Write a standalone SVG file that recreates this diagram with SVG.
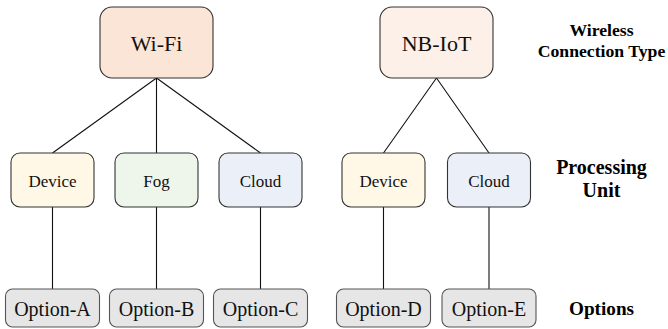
<svg xmlns="http://www.w3.org/2000/svg" width="668" height="329" viewBox="0 0 668 329">
<style>
.box{stroke:#333;stroke-width:1.1}
.opt{fill:#e6e6e6;stroke:#555;stroke-width:1.1}
text{font-family:'Liberation Serif','Times New Roman',Times,'DejaVu Serif',serif}
.t{fill:#111;text-anchor:middle}
.big{font-size:22px}
.mid{font-size:17px}
.os{font-size:20px}
.lab{font-weight:bold;fill:#000;text-anchor:middle}
.con{stroke:#111;stroke-width:1.1;fill:none}
</style>
<rect width="668" height="329" fill="#fff"/>
<g id="connectors">
<path class="con" d="M156.5 78 L52.5 153 M156.5 78 L156.5 153 M156.5 78 L260.5 153"/>
<path class="con" d="M436.5 78 L383.5 153 M436.5 78 L489 153"/>
<path class="con" d="M52.5 207 V289 M156.5 207 V289 M260.5 207 V289 M383.5 207 V289 M489 207 V289"/>
</g>
<g id="wifi"><rect class="box" x="100" y="7" width="113" height="71" rx="12" fill="#fbe5d6"/><text class="t big" x="156.5" y="51" font-family="Liberation Serif, serif">Wi-Fi</text></g>
<g id="nbiot"><rect class="box" x="380" y="7" width="113" height="71" rx="12" fill="#fcf0e8"/><text class="t big" x="436.5" y="51">NB-IoT</text></g>
<g id="device1"><rect class="box" x="11" y="153" width="83" height="54" rx="9" fill="#fff8e7"/><text class="t mid" x="52.5" y="186.5">Device</text></g>
<g id="fog"><rect class="box" x="115" y="153" width="83" height="54" rx="9" fill="#eef6eb"/><text class="t mid" x="156.5" y="186.5">Fog</text></g>
<g id="cloud1"><rect class="box" x="219" y="153" width="83" height="54" rx="9" fill="#ebeff8"/><text class="t mid" x="260.5" y="186.5">Cloud</text></g>
<g id="device2"><rect class="box" x="342" y="153" width="83" height="54" rx="9" fill="#fff8e7"/><text class="t mid" x="383.5" y="186.5">Device</text></g>
<g id="cloud2"><rect class="box" x="447.5" y="153" width="83" height="54" rx="9" fill="#ebeff8"/><text class="t mid" x="489" y="186.5">Cloud</text></g>
<g id="optA"><rect class="opt" x="5.5" y="289" width="94" height="38" rx="7"/><text class="t os" x="52.5" y="316">Option-A</text></g>
<g id="optB"><rect class="opt" x="109.5" y="289" width="94" height="38" rx="7"/><text class="t os" x="156.5" y="316">Option-B</text></g>
<g id="optC"><rect class="opt" x="213.5" y="289" width="94" height="38" rx="7"/><text class="t os" x="260.5" y="316">Option-C</text></g>
<g id="optD"><rect class="opt" x="336.5" y="289" width="94" height="38" rx="7"/><text class="t os" x="383.5" y="316">Option-D</text></g>
<g id="optE"><rect class="opt" x="442" y="289" width="94" height="38" rx="7"/><text class="t os" x="489" y="316">Option-E</text></g>
<g id="labels">
<text class="lab" x="601.5" y="36" font-size="17.7">Wireless</text>
<text class="lab" x="601.5" y="57" font-size="17.7">Connection Type</text>
<text class="lab" x="601.5" y="174" font-size="20">Processing</text>
<text class="lab" x="601.5" y="197" font-size="20">Unit</text>
<text class="lab" x="601.5" y="315" font-size="19.2">Options</text>
</g>
</svg>
